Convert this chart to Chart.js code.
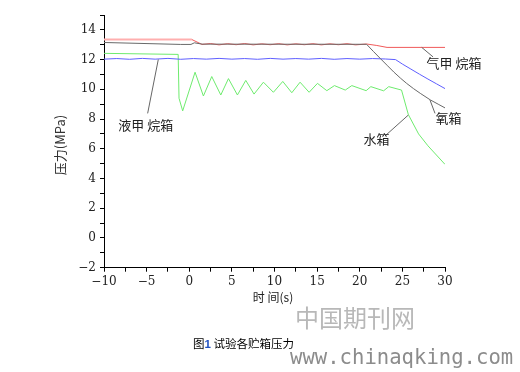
<!DOCTYPE html>
<html>
<head>
<meta charset="utf-8">
<script src="https://cdn.jsdelivr.net/npm/chart.js@4"></script>
<style>
  body { margin: 0; background: #fff; }
  #wrap { position: relative; width: 520px; height: 372px; overflow: hidden; }
  #myChart { position: absolute; left: 0; top: 0; }
  .caption { position: absolute; left: 193px; top: 335px; font: 11.5px "Noto Sans CJK SC"; color: #000; }
  .caption span { color: #2050c0; font-family: "Liberation Sans"; font-weight: bold; }
  .mark1 { position: absolute; left: 295px; top: 299px; font: 24px "Noto Sans CJK SC"; color: #b8b8b8; }
  .mark2 { position: absolute; left: 290px; top: 345px; font: 20.6px "DejaVu Sans Mono"; color: #8c8c8c; }
</style>
</head>
<body>
<div id="wrap">
  <canvas id="myChart" width="520" height="372"></canvas>
  <div class="mark1">中国期刊网</div>
  <div class="caption">图<span>1</span> 试验各贮箱压力</div>
  <div class="mark2">www.chinaqking.com</div>
</div>
<script>
// 气甲烷箱 (red)
const gasTime = [-10, 0.3, 1.5, 2.5, 3.5, 4.5, 5.5, 6.5, 7.5, 8.5, 9.5, 10.5, 11.5, 12.5, 13.5, 14.5, 15.5, 16.5, 17.5, 18.5, 19.5, 20.8, 22, 23.2, 30];
const gasPressure = [13.35, 13.35, 13.02, 13.08, 12.99, 13.07, 13.0, 13.08, 12.99, 13.06, 13.0, 13.07, 12.99, 13.06, 13.0, 13.07, 12.99, 13.06, 13.0, 13.07, 12.99, 13.05, 12.95, 12.82, 12.82];
// 氧箱 (gray)
const oxyTime = [-10, -1, 0.2, 0.6, 1.5, 20.8, 21.6, 22.4, 23.2, 24, 24.8, 25.5, 26.3, 27.1, 28.3, 29.2, 30];
const oxyPressure = [13.15, 13.02, 13.02, 13.13, 13.04, 13.03, 12.55, 12.08, 11.62, 11.16, 10.74, 10.4, 10.05, 9.73, 9.28, 9.0, 8.75];
// 液甲烷箱 (blue)
const liqTime = [-10, -8.5, -7, -5.5, -4, -2.5, -1, 0.5, 2, 3.5, 5, 6.5, 8, 9.5, 11, 12.5, 14, 15.5, 17, 18.5, 20, 21.5, 23, 24.2, 25, 26, 27, 28, 29, 30];
const liqPressure = [12.03, 12.07, 12.02, 12.08, 12.03, 12.08, 12.02, 12.07, 12.03, 12.08, 12.03, 12.07, 12.02, 12.08, 12.03, 12.07, 12.03, 12.08, 12.02, 12.07, 12.03, 12.07, 12.04, 12.0, 11.7, 11.36, 11.02, 10.69, 10.37, 10.05];
// 水箱 (green)
const waterTime = [-10, -1.3, -1.2, -0.77, 0.68, 1.66, 2.64, 3.7, 4.6, 5.65, 6.63, 7.6, 8.7, 9.87, 10.97, 12.03, 13.0, 14.06, 15.04, 16.14, 17.03, 18.3, 19.07, 20.75, 21.3, 22.8, 23.4, 24.9, 25.7, 26.9, 28, 30];
const waterPressure = [12.42, 12.35, 9.4, 8.55, 11.15, 9.55, 10.86, 9.62, 10.72, 9.62, 10.6, 9.68, 10.48, 9.8, 10.53, 9.77, 10.48, 9.8, 10.4, 9.91, 10.25, 9.95, 10.25, 9.91, 10.18, 9.9, 10.18, 9.95, 8.3, 7.0, 6.2, 4.95];

const xMin = -10, xMax = 30, yMin = -2, yMax = 15;

const toPoints = (xs, ys) => xs.map((x, i) => ({ x: x, y: ys[i] }));

// in-plot labels with leader lines, in data coordinates
const notes = [
  { text: "液甲 烷箱", at: [-5.1, 7.6], from: [-4.88, 8.38], to: [-3.63, 12.01] },
  { text: "气甲 烷箱", at: [31.05, 11.76], from: [28.6, 12.18], to: [27.27, 12.82] },
  { text: "氧箱", at: [30.4, 8.07], from: [28.83, 8.38], to: [28.24, 9.28] },
  { text: "水箱", at: [21.96, 6.66], from: [22.96, 6.86], to: [25.7, 8.27] }
];

const labelPlugin = {
  id: "labels",
  afterDraw(chart) {
    const ctx = chart.ctx;
    const xs = chart.scales.x, ys = chart.scales.y;
    ctx.save();
    ctx.strokeStyle = "#666";
    ctx.lineWidth = 1;
    notes.forEach(n => {
      ctx.beginPath();
      ctx.moveTo(xs.getPixelForValue(n.from[0]), ys.getPixelForValue(n.from[1]));
      ctx.lineTo(xs.getPixelForValue(n.to[0]), ys.getPixelForValue(n.to[1]));
      ctx.stroke();
    });
    ctx.fillStyle = "#222";
    ctx.font = '13px "Noto Sans CJK SC"';
    ctx.textAlign = "center";
    ctx.textBaseline = "middle";
    notes.forEach(n => {
      ctx.fillText(n.text, xs.getPixelForValue(n.at[0]), ys.getPixelForValue(n.at[1]));
    });
    // axis titles
    ctx.font = '12px "Noto Sans CJK SC"';
    ctx.fillText("时 间(s)", 273, 297);
    ctx.translate(60, 145);
    ctx.rotate(-Math.PI / 2);
    ctx.font = '13px "Noto Sans CJK SC"';
    ctx.fillStyle = "#333";
    ctx.fillText("压力(MPa)", 0, 0);
    ctx.restore();
  }
};

const line = (data, color) => ({
  data: data,
  borderColor: color,
  borderWidth: 1,
  pointRadius: 0,
  tension: 0,
  fill: false
});

const tickFont = { family: "DejaVu Serif", size: 12 };
const fmt = v => (v < 0 ? "\u2212" + Math.abs(v) : String(v));

const gasLine = line(toPoints(gasTime, gasPressure), "rgb(240,90,90)");
// the early part of the red curve is drawn lighter and wider in the original
gasLine.segment = {
  borderColor: c => (c.p1.parsed.x <= 0.3 ? "rgb(255,175,175)" : undefined),
  borderWidth: c => (c.p1.parsed.x <= 0.3 ? 2 : undefined)
};

new Chart(document.getElementById("myChart"), {
  type: "line",
  data: {
    datasets: [
      line(toPoints(oxyTime, oxyPressure), "rgb(105,105,105)"),
      line(toPoints(liqTime, liqPressure), "rgb(95,95,255)"),
      line(toPoints(waterTime, waterPressure), "rgb(110,235,110)"),
      gasLine
    ]
  },
  options: {
    responsive: false,
    animation: false,
    layout: { padding: { left: 0, right: 75, top: 15, bottom: 0 } },
    plugins: { legend: { display: false }, tooltip: { enabled: false } },
    scales: {
      x: {
        type: "linear",
        min: xMin, max: xMax,
        border: { color: "#000", width: 1 },
        grid: { drawOnChartArea: false, color: "#000", tickLength: 4 },
        ticks: {
          stepSize: 2.5, autoSkip: false, maxRotation: 0, padding: 3,
          color: "#222", font: tickFont,
          callback: v => (v % 5 === 0 ? fmt(v) : "")
        },
        afterFit: s => { s.height = 104.3; }
      },
      y: {
        min: yMin, max: yMax,
        border: { color: "#000", width: 1 },
        grid: { drawOnChartArea: false, color: "#000", tickLength: 4 },
        ticks: {
          stepSize: 1, autoSkip: false, padding: 4,
          color: "#222", font: tickFont,
          callback: v => (v % 2 === 0 ? fmt(v) : "")
        },
        afterFit: s => { s.width = 104; }
      }
    }
  },
  plugins: [labelPlugin]
});
</script>
</body>
</html>
